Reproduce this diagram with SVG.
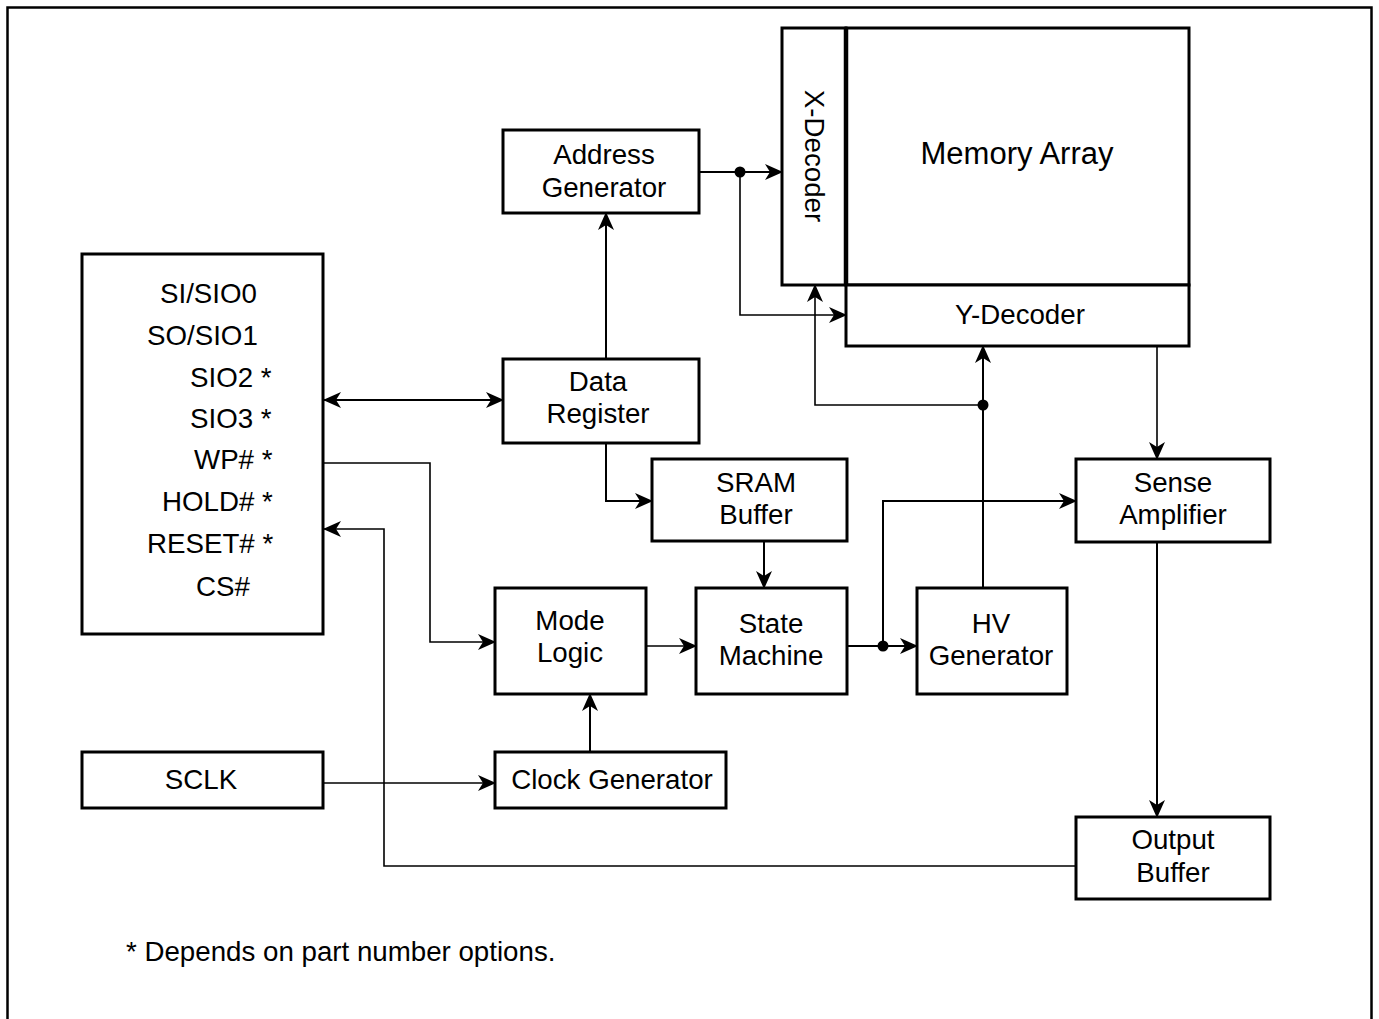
<svg xmlns="http://www.w3.org/2000/svg" width="1379" height="1019" viewBox="0 0 1379 1019">
<defs>
<style>
.box{fill:#fff;stroke:#000;stroke-width:3}
.t{font-family:"Liberation Sans",Arial,sans-serif;font-size:27.7px;fill:#000}
.c{text-anchor:middle}
.w{fill:none;stroke:#000;stroke-width:2}
.thin{fill:none;stroke:#000;stroke-width:1.6}
</style>
<marker id="ah" viewBox="0 0 18 16" refX="17" refY="8" markerWidth="18" markerHeight="16" markerUnits="userSpaceOnUse" orient="auto-start-reverse">
<path d="M0,0 L18,8 L0,16 L5,8 Z" fill="#000"/>
</marker>
</defs>
<rect width="1379" height="1019" fill="#fff"/>
<path d="M7.5,1030 V7.5 H1371.5 V1030" fill="none" stroke="#000" stroke-width="2.5"/>

<g id="memory-array">
<rect class="box" x="846" y="28" width="343" height="257"/>
<text class="t c" x="1017" y="164" style="font-size:31px">Memory Array</text>
</g>
<g id="x-decoder">
<rect class="box" x="782" y="28" width="64" height="257"/>
<line x1="846" y1="28" x2="846" y2="285" stroke="#000" stroke-width="4.5"/>
<text class="t c" transform="translate(805,156) rotate(90)">X-Decoder</text>
</g>
<g id="y-decoder">
<rect class="box" x="846" y="285" width="343" height="61"/>
<text class="t c" x="1020" y="324">Y-Decoder</text>
</g>
<g id="address-generator">
<rect class="box" x="503" y="130" width="196" height="83"/>
<text class="t c" x="604" y="164">Address</text>
<text class="t c" x="604" y="197">Generator</text>
</g>
<g id="data-register">
<rect class="box" x="503" y="359" width="196" height="84"/>
<text class="t c" x="598" y="391">Data</text>
<text class="t c" x="598" y="423">Register</text>
</g>
<g id="sram-buffer">
<rect class="box" x="652" y="459" width="195" height="82"/>
<text class="t c" x="756" y="492">SRAM</text>
<text class="t c" x="756" y="524">Buffer</text>
</g>
<g id="io-pins">
<rect class="box" x="82" y="254" width="241" height="380"/>
<text class="t" x="160" y="303">SI/SIO0</text>
<text class="t" x="147" y="345">SO/SIO1</text>
<text class="t" x="190" y="387">SIO2 *</text>
<text class="t" x="190" y="428">SIO3 *</text>
<text class="t" x="194" y="469">WP# *</text>
<text class="t" x="162" y="511">HOLD# *</text>
<text class="t" x="147" y="553">RESET# *</text>
<text class="t" x="196" y="596">CS#</text>
</g>
<g id="mode-logic">
<rect class="box" x="495" y="588" width="151" height="106"/>
<text class="t c" x="570" y="630">Mode</text>
<text class="t c" x="570" y="662">Logic</text>
</g>
<g id="state-machine">
<rect class="box" x="696" y="588" width="151" height="106"/>
<text class="t c" x="771" y="633">State</text>
<text class="t c" x="771" y="665">Machine</text>
</g>
<g id="hv-generator">
<rect class="box" x="917" y="588" width="150" height="106"/>
<text class="t c" x="991" y="633">HV</text>
<text class="t c" x="991" y="665">Generator</text>
</g>
<g id="sense-amplifier">
<rect class="box" x="1076" y="459" width="194" height="83"/>
<text class="t c" x="1173" y="492">Sense</text>
<text class="t c" x="1173" y="524">Amplifier</text>
</g>
<g id="output-buffer">
<rect class="box" x="1076" y="817" width="194" height="82"/>
<text class="t c" x="1173" y="849">Output</text>
<text class="t c" x="1173" y="882">Buffer</text>
</g>
<g id="sclk">
<rect class="box" x="82" y="752" width="241" height="56"/>
<text class="t c" x="201" y="789">SCLK</text>
</g>
<g id="clock-generator">
<rect class="box" x="495" y="752" width="231" height="56"/>
<text class="t c" x="612" y="789">Clock Generator</text>
</g>

<g id="connectors">
<path class="w" d="M699,172 H782" marker-end="url(#ah)"/>
<path class="thin" d="M740,172 V315 H846" marker-end="url(#ah)"/>
<path class="w" d="M606,359 V213" marker-end="url(#ah)"/>
<path class="w" d="M324,400 H503" marker-start="url(#ah)" marker-end="url(#ah)"/>
<path class="w" d="M606,443 V501 H652" marker-end="url(#ah)"/>
<path class="w" d="M764,541 V588" marker-end="url(#ah)"/>
<path class="thin" d="M323,463 H430 V642 H495" marker-end="url(#ah)"/>
<path class="thin" d="M1076,866 H384 V529 H324" marker-end="url(#ah)"/>
<path class="thin" d="M323,783 H495" marker-end="url(#ah)"/>
<path class="w" d="M590,751 V694" marker-end="url(#ah)"/>
<path class="thin" d="M646,646 H696" marker-end="url(#ah)"/>
<path class="w" d="M847,646 H917" marker-end="url(#ah)"/>
<path class="w" d="M883,646 V501 H1076" marker-end="url(#ah)"/>
<path class="w" d="M983,588 V346" marker-end="url(#ah)"/>
<path class="thin" d="M983,405 H815 V285" marker-end="url(#ah)"/>
<path class="thin" d="M1157,346 V459" marker-end="url(#ah)"/>
<path class="w" d="M1157,542 V817" marker-end="url(#ah)"/>
<circle cx="740" cy="172" r="5.5"/>
<circle cx="883" cy="646" r="5.5"/>
<circle cx="983" cy="405" r="5.5"/>
</g>

<text class="t" x="126" y="961">* Depends on part number options.</text>
</svg>
